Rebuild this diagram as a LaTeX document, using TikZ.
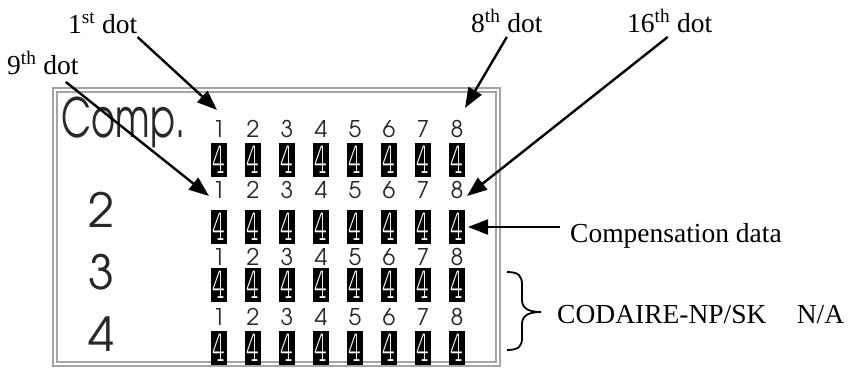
\documentclass[tikz,border=0pt]{standalone}
\usepackage{fontspec}
\setmainfont{Liberation Serif}
\newfontfamily\gothic{texgyreadventor-regular.otf}
\newfontfamily\monofour{lmmonolt10-regular.otf}
\usetikzlibrary{arrows.meta,calc}
\definecolor{framegray}{RGB}{165,165,165}
\definecolor{digitgray}{RGB}{40,40,40}
\begin{document}
\begin{tikzpicture}[x=1pt,y=-1pt,
  lbl/.style={font=\fontsize{27.5}{27.5}\selectfont, inner sep=0pt},
  arr/.style={line width=2.4pt, -{Triangle[length=20pt,width=15pt]}},
  colnum/.style={font=\gothic\fontsize{23}{23}\selectfont, text=digitgray, inner sep=0pt},
  rowlbl/.style={font=\gothic\fontsize{47}{47}\selectfont, text=digitgray, inner sep=0pt},
  cell/.style={fill=black, minimum width=16pt, minimum height=34pt, inner sep=0pt,
    text=white, font=\monofour\fontsize{44}{44}\selectfont},
  frameline/.style={draw=framegray, line width=1.4pt}]
\useasboundingbox (0,0) rectangle (849,367);
% frame
\draw[frameline] (53,88) rectangle (500,366);
\draw[frameline] (57,92) rectangle (496,362);
% row labels
\node[rowlbl, anchor=base west, font=\gothic\fontsize{54}{54}\selectfont] (r1) at (61,137) {\scalebox{0.68}[1]{Comp.}};
\node[rowlbl] (r2) at (102,210) {2};
\node[rowlbl] (r3) at (102,272) {3};
\node[rowlbl] (r4) at (102,334) {4};
% digits and cells
\foreach \r/\ny/\by in {1/129/159.5, 2/190/227, 3/257/284.5, 4/317/347.5}{
  \foreach \c in {1,...,8}{
    \node[colnum] (n\r\c) at ({219+34*(\c-1)},\ny) {\c};
    \node[cell] (b\r\c) at ({219+34*(\c-1)},\by) {\scalebox{0.55}[1]{4}};
  }
}
% labels
\node[lbl, anchor=base west] (l1) at (68,33) {1\textsuperscript{st} dot};
\node[lbl, anchor=base west] (l9) at (7,74) {9\textsuperscript{th} dot};
\node[lbl, anchor=base west] (l8) at (471,32) {8\textsuperscript{th} dot};
\node[lbl, anchor=base west] (l16) at (627,32) {16\textsuperscript{th} dot};
\node[lbl, anchor=base west] (lc) at (570,242) {Compensation data};
\node[lbl, anchor=base west] (ln) at (557,323) {CODAIRE-NP/SK\hspace{1.1em}N/A};
% arrow tips
\coordinate (t1) at (217,110);
\coordinate (t9) at (209,196);
\coordinate (t8) at (465,108);
\coordinate (t16) at (467,196);
\coordinate (tc) at (468,227);
% arrows
\draw[arr] ($(l1.base east)+(0,4)$) -- (t1);
\draw[arr] ($(l9.base)+(23,8)$) -- (t9);
\draw[arr] ($(l8.base)+(0,5)$) -- (t8);
\draw[arr] ($(l16.base)+(-2,5)$) -- (t16);
\draw[arr] ($(lc.base west)+(-10,-15)$) -- (tc);
% brace
\draw[line width=1.8pt] (507,272) .. controls (519,272) and (522,276) .. (522,285)
  -- (522,300) .. controls (522,308) and (528,312) .. (541,312)
  .. controls (528,312) and (522,316) .. (522,324)
  -- (522,338) .. controls (522,346) and (519,350) .. (507,350);
\end{tikzpicture}
\end{document}
